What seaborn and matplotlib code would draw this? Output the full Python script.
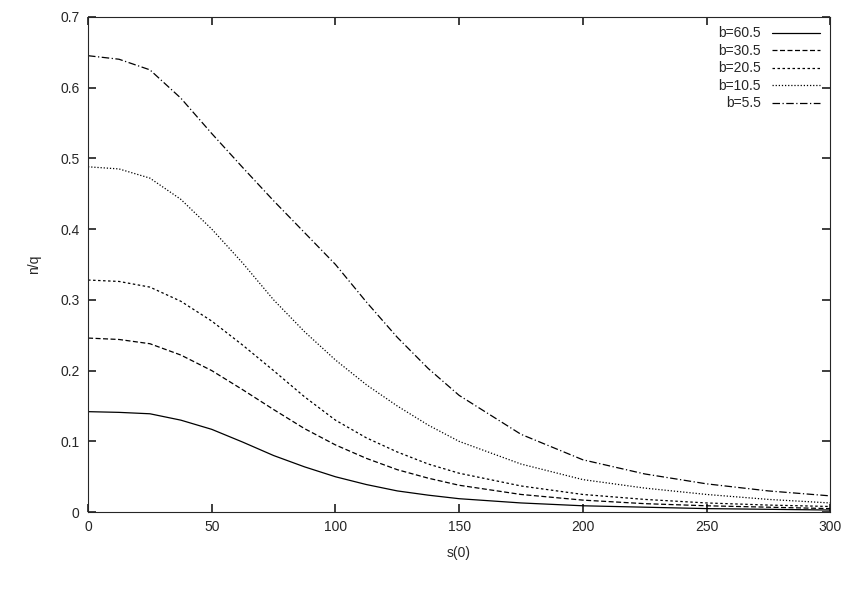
import matplotlib
matplotlib.use("Agg")
import matplotlib.pyplot as plt
import numpy as np
import pandas as pd
import seaborn as sns

sns.set_theme(style="ticks")
plt.rcParams["font.family"] = ["Liberation Sans", "DejaVu Sans"]

# values
s0 = [0, 12.5, 25, 37.5, 50, 62.5, 75, 87.5, 100, 112.5, 125, 137.5, 150, 175, 200, 225, 250, 275, 300]
b60 = [0.142, 0.141, 0.139, 0.130, 0.117, 0.099, 0.080, 0.064, 0.050, 0.039, 0.030, 0.024, 0.019, 0.013, 0.009, 0.007, 0.005, 0.004, 0.003]
b30 = [0.246, 0.244, 0.238, 0.222, 0.200, 0.173, 0.145, 0.118, 0.095, 0.076, 0.060, 0.048, 0.038, 0.025, 0.017, 0.012, 0.009, 0.007, 0.005]
b20 = [0.328, 0.326, 0.318, 0.298, 0.270, 0.236, 0.200, 0.163, 0.130, 0.105, 0.085, 0.068, 0.055, 0.037, 0.025, 0.018, 0.013, 0.010, 0.008]
b10 = [0.488, 0.485, 0.472, 0.442, 0.400, 0.352, 0.300, 0.255, 0.215, 0.180, 0.150, 0.123, 0.100, 0.068, 0.046, 0.034, 0.025, 0.018, 0.013]
b5 = [0.645, 0.640, 0.625, 0.585, 0.535, 0.487, 0.440, 0.395, 0.350, 0.297, 0.247, 0.203, 0.165, 0.110, 0.074, 0.054, 0.040, 0.030, 0.023]

labels = ["b=60.5", "b=30.5", "b=20.5", "b=10.5", "b=5.5"]
series = [b60, b30, b20, b10, b5]
styles = ["-", (0, (4, 2)), (0, (2, 2)), (0, (1, 1.5)), (0, (6, 2, 1, 2))]

df = pd.concat([pd.DataFrame({"s": s0, "v": v, "b": lab}) for lab, v in zip(labels, series)])

fig, ax = plt.subplots(figsize=(8.55, 5.99), dpi=100)
for lab, ls in zip(labels, styles):
    sub = df[df["b"] == lab]
    sns.lineplot(data=sub, x="s", y="v", ax=ax, color="black", lw=0.9, linestyle=ls, label=lab)

ax.set_xlim(0, 300)
ax.set_ylim(0, 0.7)
ax.set_xticks(range(0, 301, 50))
ax.set_yticks(np.arange(0, 0.71, 0.1))
ax.set_yticklabels(["0"] + [f"{v:.1f}" for v in np.arange(0.1, 0.71, 0.1)])
ax.set_xlabel("s(0)", fontsize=10, labelpad=8)
ax.set_ylabel("n/q", fontsize=10, labelpad=14)
ax.tick_params(direction="in", top=True, right=True, labelsize=10, pad=6)
for sp in ax.spines.values():
    sp.set_linewidth(0.8)
ax.legend(loc="upper right", frameon=False, markerfirst=False, fontsize=10,
          handlelength=3.5, labelspacing=0.25, borderaxespad=0.3)
fig.subplots_adjust(left=0.103, right=0.971, top=0.972, bottom=0.145)
fig.savefig("out.png", dpi=100)
